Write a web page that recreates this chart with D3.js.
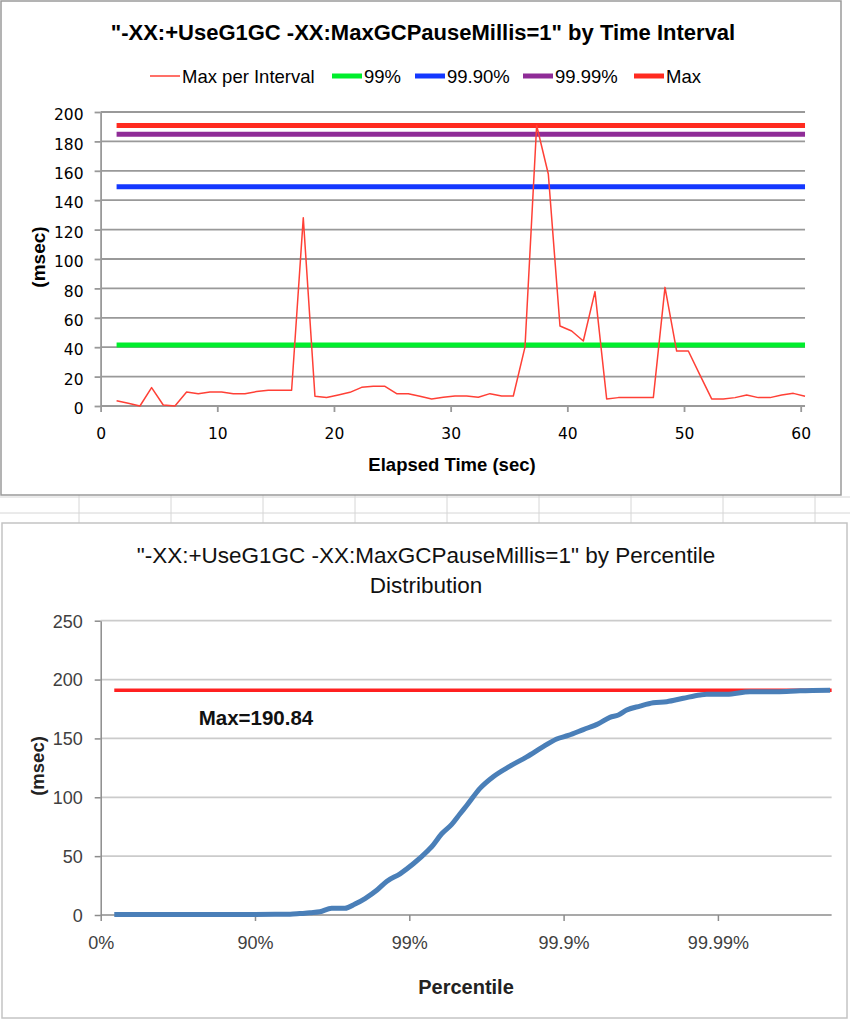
<!DOCTYPE html>
<html><head><meta charset="utf-8">
<script src="https://cdn.jsdelivr.net/npm/d3@7"></script>
<style>body{margin:0;background:#fff}</style>
</head><body><svg id="c" width="850" height="1024"></svg>
<script>
// ---------- Top chart data ----------
const topTitle = '"-XX:+UseG1GC -XX:MaxGCPauseMillis=1" by Time Interval';
const elapsedSec = [1.37,2.37,3.37,4.37,5.37,6.37,7.37,8.37,9.37,10.37,
  11.37,12.37,13.37,14.37,15.37,16.37,17.37,18.37,19.37,20.37,
  21.37,22.37,23.37,24.37,25.37,26.37,27.37,28.37,29.37,30.37,
  31.37,32.37,33.37,34.37,35.37,36.37,37.37,38.37,39.37,40.37,
  41.37,42.37,43.37,44.37,45.37,46.37,47.37,48.37,49.37,50.37,
  51.37,52.37,53.37,54.37,55.37,56.37,57.37,58.37,59.37,60.37];
const maxPerInterval = [3.6,1.8,0,12.5,0.7,0,9.5,8.4,9.5,9.5,
  8.4,8.4,9.8,10.7,10.7,10.7,128,6.6,5.8,7.5,
  9.3,12.7,13.4,13.4,8.4,8.4,6.6,4.8,5.9,6.8,
  6.8,5.9,8.4,6.8,6.8,40,190.84,157.8,54.4,51,
  44.2,77.8,4.8,5.7,5.7,5.7,5.7,80.7,37.4,37.4,
  21,4.8,4.8,5.7,7.5,5.7,5.7,7.5,8.6,6.6];
const levelNames = ["99%","99.90%","99.99%","Max"];
const levelValues = [41.5,149.2,184.8,190.84];
const legendNames = ["Max per Interval","99%","99.90%","99.99%","Max"];
const legendColors = ["#ff4036","#00ee2c","#1438ff","#8f2c97","#ff2b20"];
const topYTicks = [0,20,40,60,80,100,120,140,160,180,200];
const topXTicks = [0,10,20,30,40,50,60];

// ---------- Bottom chart data ----------
const bottomTitleLines = ['"-XX:+UseG1GC -XX:MaxGCPauseMillis=1" by Percentile','Distribution'];
// x position expressed in "nines": log10(1/(1-percentile))
const curveNines = [0.088,0.5,1.0,1.227,1.29,1.356,1.42,1.497,1.583,1.648,
  1.713,1.789,1.853,1.94,2.026,2.123,2.145,2.21,2.275,2.329,
  2.372,2.458,2.544,2.653,2.761,2.868,2.955,3.03,3.128,3.225,
  3.3,3.355,3.409,3.495,3.581,3.668,3.776,3.884,3.927,4.057,
  4.208,4.381,4.532,4.727];
const curveMsec = [0.5,0.5,0.5,0.6,1.2,2,2.8,5.7,5.7,9.3,
  14,21,28.5,35,43.5,55,58,69,77,86,
  93,107.6,117.5,126.5,134.3,143,149.5,152.5,157.5,162.5,
  167.9,169.9,174.1,177.5,180.3,181.2,184.1,186.9,187.5,187.5,
  189.7,189.7,190.4,190.84];
const pctTickNines = [0,1,2,3,4];
const pctTickLabels = ["0%","90%","99%","99.9%","99.99%"];
const maxLatency = 190.84;
const bottomYTicks = [0,50,100,150,200,250];

const FONT = "Liberation Sans, Arial, sans-serif";
const svg = d3.select("#c");
svg.append("rect").attr("width",850).attr("height",1024).attr("fill","#fff");

// spreadsheet cells between charts
const cells = svg.append("g").attr("stroke","#d6d6d6").attr("stroke-width",1);
[497,513].forEach(yy=>cells.append("line").attr("x1",0).attr("x2",850).attr("y1",yy).attr("y2",yy));
[79,171,263,355,447,539,631,723,815].forEach(xx=>cells.append("line").attr("x1",xx).attr("x2",xx).attr("y1",495).attr("y2",523));

// ================= TOP CHART =================
const T = svg.append("g");
T.append("rect").attr("x",1).attr("y",1).attr("width",840).attr("height",494)
  .attr("fill","#fff").attr("stroke","#9a9a9a").attr("stroke-width",1.5);
T.append("text").attr("x",423).attr("y",40).attr("text-anchor","middle")
  .attr("font-family",FONT).attr("font-weight","bold")
  .attr("font-size",22).text(topTitle);

const x = d3.scaleLinear().domain([0,60]).range([100.6,800.7]);
const y = d3.scaleLinear().domain([0,200]).range([406,112]);
const plotRight = x(60.37);

// gridlines
T.append("g").selectAll("line").data(topYTicks.filter(d=>d>0)).join("line")
  .attr("x1",x(0)).attr("x2",plotRight).attr("y1",d=>y(d)).attr("y2",d=>y(d))
  .attr("stroke","#999").attr("stroke-width",1.8);

// axes
const yAx = T.append("g").attr("transform",`translate(${x(0)},0)`)
  .call(d3.axisLeft(y).tickValues(topYTicks).tickSize(6).tickSizeOuter(0).tickPadding(11));
const xAx = T.append("g").attr("transform",`translate(0,${y(0)})`)
  .call(d3.axisBottom(x).tickValues(topXTicks).tickSize(6).tickSizeOuter(0).tickPadding(16));
xAx.select(".domain").remove();
T.append("line").attr("x1",x(0)).attr("x2",plotRight).attr("y1",y(0)).attr("y2",y(0))
  .attr("stroke","#999").attr("stroke-width",1.8);
[yAx,xAx].forEach(a=>{
  a.selectAll("path,line").attr("stroke","#999").attr("stroke-width",1.8);
  a.selectAll("text").attr("font-family","DejaVu Sans, sans-serif").attr("font-size",15.5).attr("fill","#000");
});
yAx.selectAll("text").attr("dy","0.5em");

// axis titles
T.append("text").attr("transform","translate(45,257) rotate(-90)").attr("text-anchor","middle")
  .attr("font-family",FONT).attr("font-weight","bold").attr("font-size",19)
  .text("(msec)");
T.append("text").attr("x",452).attr("y",471).attr("text-anchor","middle")
  .attr("font-family",FONT).attr("font-weight","bold").attr("font-size",18.5)
  .text("Elapsed Time (sec)");

// percentile level lines
levelValues.forEach((v,i)=>{
  T.append("path").datum(elapsedSec.map(t=>[t,v]))
    .attr("d",d3.line().x(d=>x(d[0])).y(d=>y(d[1])))
    .attr("fill","none").attr("stroke",legendColors[i+1]).attr("stroke-width",5);
});
// data line
T.append("path").datum(elapsedSec.map((t,i)=>[t,maxPerInterval[i]]))
  .attr("d",d3.line().x(d=>x(d[0])).y(d=>y(d[1])))
  .attr("fill","none").attr("stroke",legendColors[0]).attr("stroke-width",1.5).attr("stroke-linejoin","round");

// legend
const legendX = [150,332,415,523,634];
legendNames.forEach((n,i)=>{
  const g = T.append("g");
  g.append("line").attr("x1",legendX[i]).attr("x2",legendX[i]+30).attr("y1",76).attr("y2",76)
    .attr("stroke",legendColors[i]).attr("stroke-width",i===0?1.5:5);
  g.append("text").attr("x",legendX[i]+32).attr("y",82.5)
    .attr("font-family",FONT).attr("font-size",18.5).text(n);
});

// ================= BOTTOM CHART =================
const B = svg.append("g");
B.append("rect").attr("x",2).attr("y",523).attr("width",845).attr("height",495)
  .attr("fill","#fff").attr("stroke","#c4c4c4").attr("stroke-width",1.5);
bottomTitleLines.forEach((l,i)=>{
  B.append("text").attr("x",426).attr("y",563+i*30).attr("text-anchor","middle")
    .attr("font-family",FONT).attr("font-size",22.5).attr("fill","#111").text(l);
});
const xb = d3.scaleLinear().domain([0,4]).range([100.7,717.9]);
const yb = d3.scaleLinear().domain([0,250]).range([915,620.7]);
const bRight = xb(4.737);

B.append("g").selectAll("line").data(bottomYTicks.filter(d=>d>0)).join("line")
  .attr("x1",xb(0)).attr("x2",bRight).attr("y1",d=>yb(d)).attr("y2",d=>yb(d))
  .attr("stroke","#cbcbcb").attr("stroke-width",1.8);

const ybAx = B.append("g").attr("transform",`translate(${xb(0)},0)`)
  .call(d3.axisLeft(yb).tickValues(bottomYTicks).tickSize(6).tickSizeOuter(0).tickPadding(12));
const xbAx = B.append("g").attr("transform",`translate(0,${yb(0)})`)
  .call(d3.axisBottom(xb).tickValues(pctTickNines).tickFormat((d,i)=>pctTickLabels[i]).tickSize(6).tickSizeOuter(0).tickPadding(15));
xbAx.select(".domain").remove();
B.append("line").attr("x1",xb(0)).attr("x2",bRight).attr("y1",yb(0)).attr("y2",yb(0))
  .attr("stroke","#8c8c8c").attr("stroke-width",1.5);
[ybAx,xbAx].forEach(a=>{
  a.selectAll("path,line").attr("stroke","#8c8c8c").attr("stroke-width",1.5);
  a.selectAll("text").attr("font-family",FONT).attr("font-size",18).attr("fill","#404040");
});
ybAx.selectAll("text").attr("dy","0.35em");

B.append("text").attr("transform","translate(44,766) rotate(-90)").attr("text-anchor","middle")
  .attr("font-family",FONT).attr("font-weight","bold").attr("font-size",18.5)
  .attr("fill","#222").text("(msec)");
B.append("text").attr("x",466).attr("y",994).attr("text-anchor","middle")
  .attr("font-family",FONT).attr("font-weight","bold").attr("font-size",20)
  .attr("fill","#222").text("Percentile");

// max line
B.append("line").attr("x1",xb(curveNines[0])).attr("x2",bRight).attr("y1",yb(maxLatency)).attr("y2",yb(maxLatency))
  .attr("stroke","#ff2020").attr("stroke-width",3.5);
B.append("text").attr("x",256).attr("y",725).attr("text-anchor","middle")
  .attr("font-family",FONT).attr("font-weight","bold").attr("font-size",20.5)
  .attr("fill","#111").text("Max=" + maxLatency);

// curve
B.append("path").datum(curveNines.map((d,i)=>[d,curveMsec[i]]))
  .attr("d",d3.line().x(d=>xb(d[0])).y(d=>yb(d[1])).curve(d3.curveMonotoneX))
  .attr("fill","none").attr("stroke","#4a7fb8").attr("stroke-width",5).attr("stroke-linejoin","round");
</script></body></html>
